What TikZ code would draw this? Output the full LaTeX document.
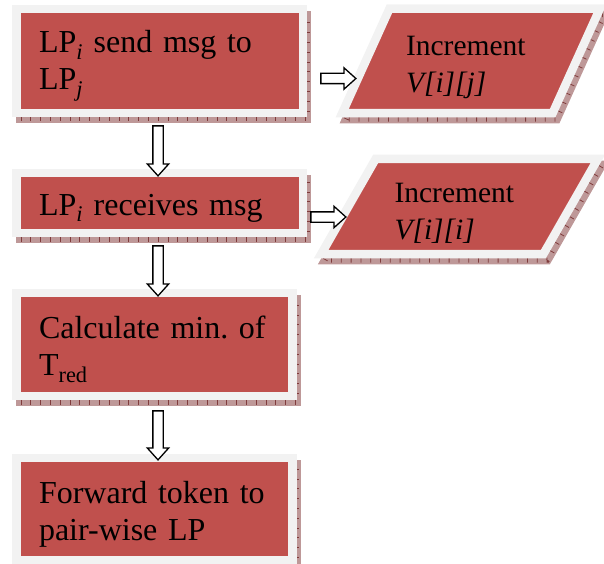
\documentclass[tikz,border=0pt]{standalone}
\usepackage{fontspec}
\setmainfont{Liberation Serif}
\usetikzlibrary{shapes.geometric, shapes.arrows}

\definecolor{boxred}{RGB}{192,80,77}
\definecolor{rimgray}{RGB}{242,242,242}
\definecolor{shadowred}{RGB}{190,152,152}
\definecolor{tickred}{RGB}{128,60,60}

\begin{document}
\begin{tikzpicture}[x=1pt, y=1pt,
	shadowed/.style={
		preaction={draw=shadowred, fill=shadowred, transform canvas={shift={(4pt,-6pt)}}},
		preaction={draw=tickred, line width=5pt, dash pattern=on 0.8pt off 9pt, transform canvas={shift={(4pt,-6pt)}}}},
	procbox/.style={rectangle, fill=boxred, draw=rimgray, line width=8.5pt, shadowed,
		align=left, inner xsep=22.5pt, inner ysep=0pt,
		font=\fontsize{32pt}{37pt}\selectfont, execute at begin node=\rule{0pt}{32pt}},
	iobox/.style={trapezium, trapezium stretches=true, fill=boxred, draw=rimgray, line width=8.5pt, shadowed,
		align=left, text width=130pt, inner sep=0pt,
		font=\fontsize{29.5pt}{37pt}\selectfont, execute at begin node=\rule{0pt}{32pt}},
	hollow/.style={single arrow, draw=black, fill=white, line width=1.3pt, outer sep=0pt,
		inner xsep=0pt, inner ysep=4.5pt, minimum width=0pt,
		single arrow head extend=5.5pt, single arrow tip angle=84, single arrow head indent=0pt}]

	\useasboundingbox (0,0) rectangle (604,563);

	\node[procbox, minimum width=286.5pt, minimum height=104pt, text width=241.5pt] (send) at (159.75,502)
		{LP\textsubscript{\textit{i}} send msg to\\LP\textsubscript{\textit{j}}};
	\node[procbox, minimum width=286.5pt, minimum height=60pt, text width=241.5pt] (recv) at (159.75,360)
		{LP\textsubscript{\textit{i}} receives msg};
	\node[procbox, minimum width=276pt, minimum height=103pt, text width=231pt] (calc) at (154.5,218.5)
		{Calculate~min.~of\\T\textsubscript{red}};
	\node[procbox, minimum width=276pt, minimum height=102pt, text width=231pt] (fwd) at (154.5,54)
		{Forward~token~to\\pair-wise LP};

	\node[iobox, trapezium left angle=63.4, trapezium right angle=116.6,
		minimum width=257.8pt, minimum height=104.5pt] (incj) at (471,502)
		{Increment\\\textit{V[i][j]}};
	\node[iobox, trapezium left angle=60, trapezium right angle=120,
		minimum width=277.4pt, minimum height=95pt] (inci) at (459.5,356.5)
		{Increment\\\textit{V[i][i]}};

	\path ([xshift=-1.75pt, yshift=-5.75pt]send.south) -- ([xshift=-1.75pt, yshift=-4.25pt]recv.north)
		node[midway, hollow, rotate=-90, minimum height=50pt] (d1) {};
	\path ([xshift=-1.75pt, yshift=-5.75pt]recv.south) -- ([xshift=3.5pt, yshift=-4.25pt]calc.north)
		node[midway, hollow, rotate=-90, minimum height=50pt] (d2) {};
	\path ([xshift=3.5pt, yshift=-7.75pt]calc.south) -- ([xshift=3.5pt, yshift=-3.25pt]fwd.north)
		node[midway, hollow, rotate=-90, minimum height=49pt] (d3) {};

	\path ([xshift=10.75pt, yshift=-17.5pt]send.east) -- ++(35,0)
		node[midway, hollow, minimum height=35pt] (r1) {};
	\path ([xshift=0.75pt, yshift=-14pt]recv.east) -- ++(35,0)
		node[midway, hollow, minimum height=35pt] (r2) {};
\end{tikzpicture}
\end{document}
